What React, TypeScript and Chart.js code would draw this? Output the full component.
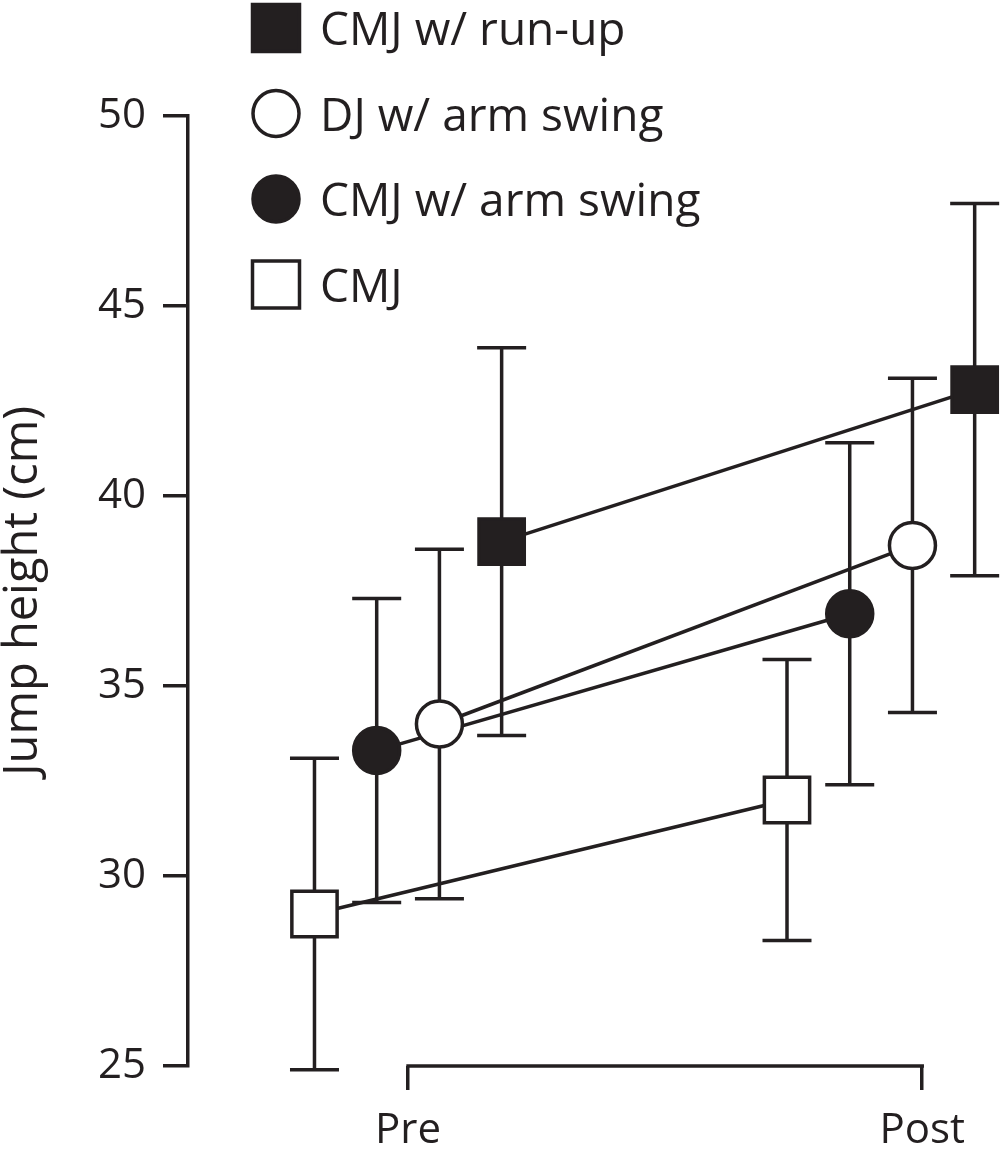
import { useEffect, useRef } from 'react'
import { Chart, registerables, type Plugin } from 'chart.js'

Chart.register(...registerables)

const ink = '#231f20'
const font = 'Open Sans'

// legend / series order (top to bottom in the key)
const seriesLabels = ['CMJ w/ run-up', 'DJ w/ arm swing', 'CMJ w/ arm swing', 'CMJ']
const timeLabels = ['Pre', 'Post']
const timeTicks = [0, 1]
const yTicks = [25, 30, 35, 40, 45, 50]

// mean jump height (cm) and SD, [Pre, Post]
const runUpMean = [38.8, 42.8]
const runUpSd = [5.1, 4.9]
const djArmMean = [34.0, 38.7]
const djArmSd = [4.6, 4.4]
const cmjArmMean = [33.3, 36.9]
const cmjArmSd = [4.0, 4.5]
const cmjMean = [29.0, 32.0]
const cmjSd = [4.1, 3.7]

// horizontal dodge of each series around Pre / Post, in x units
const preDodge = [0.182, 0.061, -0.061, -0.182]
const postDodge = [0.102, -0.019, -0.141, -0.263]

const X_MIN = -0.428
const X_MAX = 1.09

const means = [runUpMean, djArmMean, cmjArmMean, cmjMean]
const sds = [runUpSd, djArmSd, cmjArmSd, cmjSd]
const markers = [
  { style: 'rect', radius: 32, fill: ink },
  { style: 'circle', radius: 23, fill: '#ffffff' },
  { style: 'circle', radius: 23, fill: ink },
  { style: 'rect', radius: 32, fill: '#ffffff' },
]

const errorBars: Plugin<'scatter'> = {
  id: 'errorBars',
  beforeDatasetsDraw(chart) {
    const { ctx } = chart
    const y = chart.scales.y
    ctx.save()
    ctx.strokeStyle = ink
    ctx.lineWidth = 3.5
    chart.data.datasets.forEach((ds: any, i) => {
      const meta = chart.getDatasetMeta(i)
      meta.data.forEach((pt, j) => {
        const m = ds.data[j].y
        const top = y.getPixelForValue(m + ds.sd[j])
        const bot = y.getPixelForValue(m - ds.sd[j])
        ctx.beginPath()
        ctx.moveTo(pt.x, top)
        ctx.lineTo(pt.x, bot)
        ctx.moveTo(pt.x - 24.5, top)
        ctx.lineTo(pt.x + 24.5, top)
        ctx.moveTo(pt.x - 24.5, bot)
        ctx.lineTo(pt.x + 24.5, bot)
        ctx.stroke()
      })
    })
    ctx.restore()
  },
}

// bracket joining Pre and Post below the plot
const bracket: Plugin<'scatter'> = {
  id: 'bracket',
  afterDraw(chart) {
    const { ctx, chartArea } = chart
    const x = chart.scales.x
    ctx.save()
    ctx.strokeStyle = ink
    ctx.lineWidth = 3.5
    ctx.lineCap = 'square'
    ctx.beginPath()
    ctx.moveTo(x.getPixelForValue(timeTicks[0]), chartArea.bottom)
    ctx.lineTo(x.getPixelForValue(timeTicks[timeTicks.length - 1]), chartArea.bottom)
    ctx.stroke()
    ctx.restore()
  },
}

const keyLegend: Plugin<'scatter'> = {
  id: 'keyLegend',
  afterDraw(chart) {
    const { ctx, chartArea } = chart
    const cx = chartArea.left + 88
    const y0 = chartArea.top - 88
    ctx.save()
    ctx.font = `46px "${font}"`
    ctx.textBaseline = 'alphabetic'
    ctx.textAlign = 'left'
    ctx.lineWidth = 3.5
    chart.data.datasets.forEach((ds: any, i) => {
      const cy = y0 + i * 85.5
      ctx.fillStyle = ds.pointBackgroundColor
      ctx.strokeStyle = ink
      ctx.beginPath()
      if (ds.pointStyle === 'rect') ctx.rect(cx - 23.5, cy - 23.5, 47, 47)
      else ctx.arc(cx, cy, 23, 0, Math.PI * 2)
      ctx.fill()
      ctx.stroke()
      ctx.fillStyle = ink
      ctx.fillText(ds.label, cx + 44, cy + 17)
    })
    ctx.restore()
  },
}

function JumpChart() {
  const canvasRef = useRef<HTMLCanvasElement | null>(null)
  const chartRef = useRef<Chart | null>(null)

  useEffect(() => {
    document.body.style.margin = '0'
    const ctx = canvasRef.current?.getContext('2d')
    if (!ctx) return

    const datasets = seriesLabels.map((label, i) => ({
      label,
      data: means[i].map((v, j) => ({
        x: timeTicks[j] + (j === 0 ? preDodge[i] : postDodge[i]),
        y: v,
      })),
      sd: sds[i],
      showLine: true,
      borderColor: ink,
      borderWidth: 3.5,
      pointStyle: markers[i].style,
      pointRadius: markers[i].radius,
      pointBackgroundColor: markers[i].fill,
      pointBorderColor: ink,
      pointBorderWidth: 3.5,
      clip: false,
    }))

    chartRef.current = new Chart(ctx, {
      type: 'scatter',
      data: { datasets: datasets as any },
      options: {
        responsive: false,
        animation: false,
        events: [],
        layout: { padding: { top: 116, left: 0, right: 0, bottom: 0 } },
        plugins: {
          legend: { display: false },
          tooltip: { enabled: false },
        },
        scales: {
          x: {
            type: 'linear',
            bounds: 'data',
            min: X_MIN,
            max: X_MAX,
            afterBuildTicks: (s) => {
              s.min = X_MIN
              s.max = X_MAX
              s.ticks = timeTicks.map((value) => ({ value }))
            },
            afterFit: (s: any) => {
              s.height = 83
              s.paddingLeft = 0
              s.paddingRight = 0
            },
            border: { display: false },
            grid: { drawOnChartArea: false, tickLength: 24, color: ink, lineWidth: 3.5 },
            ticks: {
              color: ink,
              font: { family: font, size: 42 },
              padding: 16,
              maxRotation: 0,
              autoSkip: false,
              callback: (_v, i) => timeLabels[i],
            },
          },
          y: {
            min: yTicks[0],
            max: yTicks[yTicks.length - 1],
            afterBuildTicks: (s) => {
              s.ticks = yTicks.map((value) => ({ value }))
            },
            afterFit: (s) => {
              s.width = 188
            },
            border: { display: true, color: ink, width: 3.5 },
            grid: { drawOnChartArea: false, tickLength: 25, color: ink, lineWidth: 3.5 },
            ticks: { color: ink, font: { family: font, size: 42 }, padding: 17 },
            title: {
              display: true,
              text: 'Jump height (cm)',
              color: ink,
              font: { family: font, size: 47, lineHeight: 1 },
              padding: 0,
            },
          },
        },
      },
      plugins: [errorBars, bracket, keyLegend],
    })

    return () => {
      chartRef.current?.destroy()
      chartRef.current = null
    }
  }, [])

  return (
    <div style={{ width: 1004, height: 1149 }}>
      <canvas ref={canvasRef} width={1004} height={1149} style={{ display: 'block' }} />
    </div>
  )
}

export default function App() {
  return <JumpChart />
}
